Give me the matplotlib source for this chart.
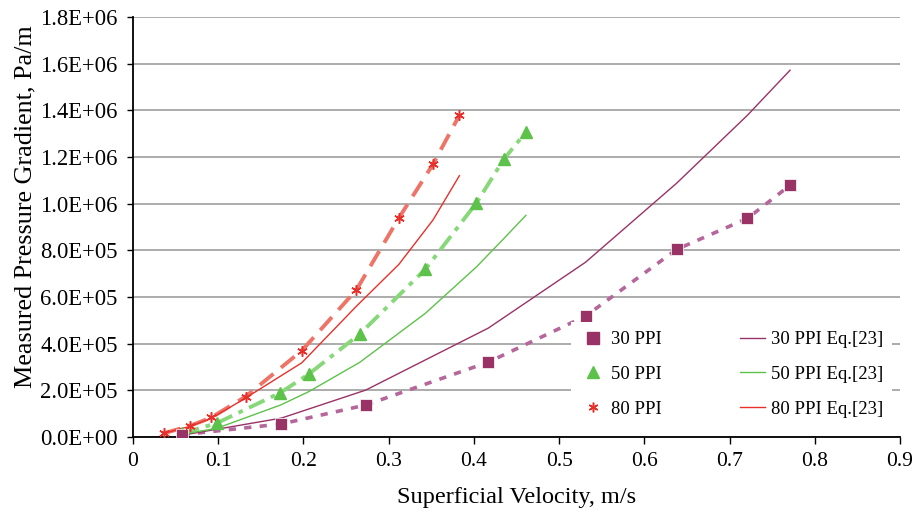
import matplotlib
matplotlib.use('Agg')
import matplotlib.pyplot as plt
from matplotlib.lines import Line2D

plt.rcParams['font.family'] = ['Liberation Serif', 'DejaVu Serif']

# measured data
v30 = [0.058, 0.174, 0.273, 0.417, 0.531, 0.638, 0.721, 0.771]
dp30 = [1.0e4, 5.6e4, 1.37e5, 3.21e5, 5.18e5, 8.04e5, 9.37e5, 1.079e6]
eq30 = [8.0e3, 8.1e4, 2.01e5, 4.67e5, 7.49e5, 1.088e6, 1.379e6, 1.572e6]

v50 = [0.058, 0.098, 0.173, 0.206, 0.266, 0.343, 0.403, 0.435, 0.461]
dp50 = [1.6e4, 5.9e4, 1.90e5, 2.69e5, 4.41e5, 7.19e5, 1.003e6, 1.19e6, 1.307e6]
eq50 = [1.2e4, 3.7e4, 1.37e5, 1.94e5, 3.2e5, 5.3e5, 7.29e5, 8.5e5, 9.5e5]

v80 = [0.036, 0.067, 0.092, 0.132, 0.198, 0.262, 0.312, 0.352, 0.383]
dp80 = [1.6e4, 4.8e4, 8.4e4, 1.73e5, 3.70e5, 6.30e5, 9.39e5, 1.169e6, 1.379e6]
eq80 = [1.6e4, 4.6e4, 8.0e4, 1.67e5, 3.18e5, 5.6e5, 7.4e5, 9.3e5, 1.12e6]

xticks = [0, 0.1, 0.2, 0.3, 0.4, 0.5, 0.6, 0.7, 0.8, 0.9]
yticks = [0, 2e5, 4e5, 6e5, 8e5, 1e6, 1.2e6, 1.4e6, 1.6e6, 1.8e6]

c30, c30l = '#993366', '#B5669A'
c50, c50l = '#5CC24A', '#86D878'
c80, c80l = '#E8302A', '#EE7468'
star = (6, 2, 0)

fig = plt.figure(figsize=(9.18, 5.13), dpi=100)
ax = fig.add_axes([0.1449, 0.1481, 0.8355, 0.8188])

# trend lines through data (dashed)
ax.plot(v30, dp30, color=c30l, lw=2.6, dashes=(2, 2.3), zorder=2)
ax.plot(v50, dp50, color=c50l, lw=2.8, dashes=(4.4, 1.8, 1.2, 1.8), zorder=2)
ax.plot(v80, dp80, color=c80l, lw=2.8, dashes=(4.5, 2.5), zorder=2)

# Eq.[23]
ax.plot(v30, eq30, color=c30, lw=1.0, zorder=3)
ax.plot(v50, eq50, color=c50, lw=1.0, zorder=3)
ax.plot(v80, eq80, color=c80, lw=1.0, zorder=3)

# markers
ax.plot(v50, dp50, ls='none', marker='^', ms=8.5, color=c50, mec=c50, zorder=4)
ax.plot(v30, dp30, ls='none', marker='s', ms=9, color=c30, mec='white', mew=0.5, zorder=5)
ax.plot(v80, dp80, ls='none', marker=star, ms=7.5, color=c80, mew=1.1, zorder=5)

ax.set_xlim(0, 0.9)
ax.set_ylim(0, 1.8e6)
ax.set_xticks(xticks)
ax.set_xticklabels(['0' if t == 0 else f'{t:g}' for t in xticks])
ax.set_yticks(yticks)
ax.set_yticklabels([f'{t:.1E}' for t in yticks])
ax.yaxis.grid(True, color='#A6A6A6', lw=1.3)
ax.set_axisbelow(True)
for s in ['top', 'right']:
    ax.spines[s].set_visible(False)
for s in ['left', 'bottom']:
    ax.spines[s].set_linewidth(1.3)
ax.tick_params(axis='both', direction='out', width=1.0)
ax.tick_params(axis='y', length=4, pad=7, labelsize=16.3)
ax.tick_params(axis='x', length=5, pad=6, labelsize=15.5)

ax.set_xlabel('Superficial Velocity, m/s', fontsize=17.5, labelpad=11)
ax.set_ylabel('Measured Pressure Gradient, Pa/m', fontsize=18.8, labelpad=2.5)
ax.yaxis.label.set_y(0.548)

handles = [
    Line2D([], [], ls='none', marker='s', ms=9, color=c30),
    Line2D([], [], ls='none', marker='^', ms=8, color=c50),
    Line2D([], [], ls='none', marker=star, ms=7, color=c80, mew=1.1),
    Line2D([], [], color=c30, lw=1.0),
    Line2D([], [], color=c50, lw=1.0),
    Line2D([], [], color=c80, lw=1.0),
]
labels = ['30 PPI', '50 PPI', '80 PPI', '30 PPI Eq.[23]', '50 PPI Eq.[23]', '80 PPI Eq.[23]']
leg = ax.legend(handles, labels, ncol=2, loc='lower right', bbox_to_anchor=(0.99, 0.024),
                fontsize=13.5, frameon=True, facecolor='white', edgecolor='none', framealpha=1,
                fancybox=False, handlelength=1.33, handletextpad=0.3, columnspacing=4.2,
                labelspacing=0.93, borderpad=0.5, borderaxespad=0)
leg.set_zorder(6)

fig.savefig('out.png', dpi=100)
